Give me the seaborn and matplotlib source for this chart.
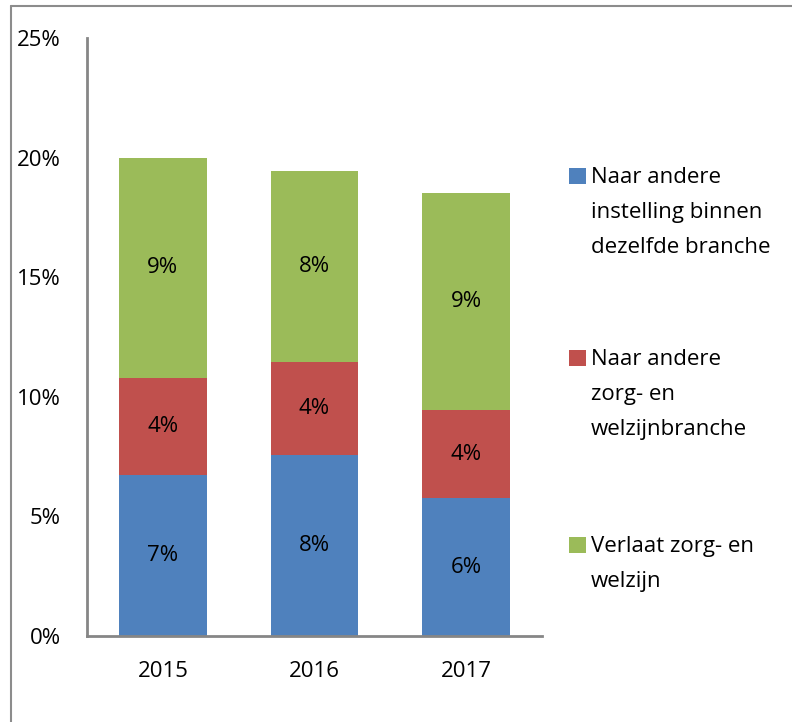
import matplotlib
matplotlib.use("Agg")
import pandas as pd
import matplotlib.pyplot as plt
import seaborn as sns
from matplotlib.patches import Rectangle
from matplotlib.lines import Line2D

# waarden in procenten
years = ["2015", "2016", "2017"]
binnen_branche = [6.75, 7.55, 5.75]
andere_branche = [4.05, 3.9, 3.7]
verlaat_sector = [9.2, 8.0, 9.05]

series_labels = [
    "Naar andere\ninstelling binnen\ndezelfde branche",
    "Naar andere\nzorg- en\nwelzijnbranche",
    "Verlaat zorg- en\nwelzijn",
]
colors = ["#4F81BD", "#C0504D", "#9BBB59"]
y_ticks = [0, 5, 10, 15, 20, 25]

sns.set_theme(style="white")
plt.rcParams["font.family"] = ["Open Sans", "DejaVu Sans"]
FS = 16

df = pd.DataFrame({
    "jaar": years,
    "binnen": binnen_branche,
    "andere": andere_branche,
    "verlaat": verlaat_sector,
})
df["tot_rood"] = df["binnen"] + df["andere"]
df["tot_groen"] = df["tot_rood"] + df["verlaat"]

W, H = 792, 722
fig = plt.figure(figsize=(W / 100, H / 100), dpi=100)
ax = fig.add_axes([87 / W, 1 - 636 / H, 455 / W, 598 / H])

# gestapeld: eerst het totaal, daarna de lagere lagen eroverheen
for col, c in [("tot_groen", colors[2]), ("tot_rood", colors[1]), ("binnen", colors[0])]:
    sns.barplot(data=df, x="jaar", y=col, color=c, width=0.58, saturation=1,
                errorbar=None, edgecolor="none", ax=ax)

# labels midden in elk segment
for i, row in df.iterrows():
    bottoms = [0, row["binnen"], row["tot_rood"]]
    heights = [row["binnen"], row["andere"], row["verlaat"]]
    for b, h in zip(bottoms, heights):
        ax.text(i, b + h / 2, f"{h:.0f}%", ha="center", va="center",
                fontsize=FS, color="black")

ax.set_ylim(0, 25)
ax.set_yticks(y_ticks)
ax.set_yticklabels([f"{t}%" for t in y_ticks])
ax.set_xlabel("")
ax.set_ylabel("")
ax.tick_params(axis="both", length=0, labelsize=FS, colors="black")
ax.tick_params(axis="y", pad=19)
ax.tick_params(axis="x", pad=18)

sns.despine(ax=ax, top=True, right=True)
for s in ["left", "bottom"]:
    ax.spines[s].set_color("#868686")
    ax.spines[s].set_linewidth(2)

# legenda: blokje naast de eerste regel van elk label
legend_rows = [176, 358, 545]
for lab, c, yc in zip(series_labels, colors, legend_rows):
    fig.add_artist(Rectangle((569 / W, 1 - (yc + 8) / H), 17 / W, 16 / H,
                             transform=fig.transFigure, facecolor=c,
                             edgecolor="none"))
    fig.text(591 / W, 1 - (yc - 9) / H, lab, ha="left", va="top",
             fontsize=FS, linespacing=1.86, color="black")

# kader rond de figuur
fig.add_artist(Line2D([11 / W, 11 / W], [0, 1 - 6 / H],
                      transform=fig.transFigure, color="#8c8c8c", lw=1.5))
fig.add_artist(Line2D([11 / W, 1], [1 - 6 / H, 1 - 6 / H],
                      transform=fig.transFigure, color="#8c8c8c", lw=1.5))

fig.savefig("out.png", dpi=100)
